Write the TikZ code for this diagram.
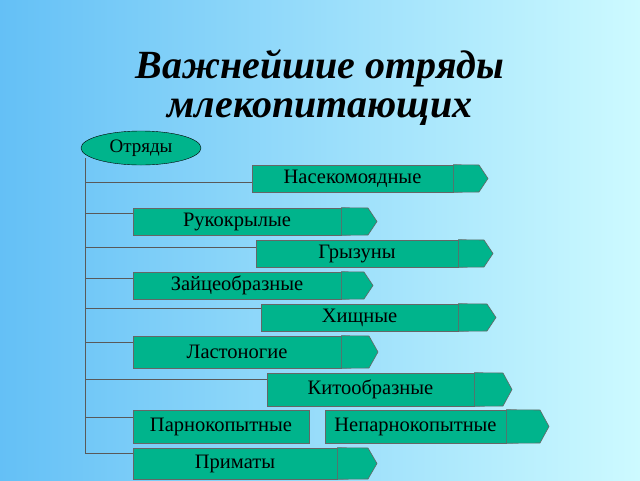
\documentclass[tikz,border=0pt]{standalone}
\usepackage{fontspec}
\setmainfont{Liberation Serif}
\usetikzlibrary{shapes.geometric}
\definecolor{boxg}{RGB}{0,180,140}
\definecolor{bgl}{RGB}{100,192,246}
\definecolor{bgr}{RGB}{205,250,255}
\newcommand\abox[7]{%
  \node[box, minimum width={(#3-#2)*1pt}, minimum height={(#6-#5)*1pt}] (#1) at ({(#2+#3)/2},{-(#5+#6)/2}) {#7};
  \coordinate (#1t) at (#4,{-(#5+#6)/2});
  \draw[boxline] (#1.north east) -- (#4-9,-#5) -- (#1t) -- (#4-9,-#6) -- (#1.south east) -- cycle;}
\begin{document}
\begin{tikzpicture}[x=1pt,y=1pt,
  box/.style={draw=black!60, fill=boxg, line width=0.6pt, inner sep=0pt, font=\fontsize{20.5}{20.5}\selectfont},
  boxline/.style={draw=black!60, fill=boxg, line width=0.6pt},
  conn/.style={draw=black!65, line width=0.6pt}]
\useasboundingbox (0,0) rectangle (640,-480);
\shade[left color=bgl, right color=bgr] (0,0) rectangle (640,-480);
\node[font=\fontsize{40}{39}\selectfont\bfseries\itshape, align=center] (title) at (320,-88) {Важнейшие отряды\\млекопитающих};
\node[draw=black, fill=boxg, ellipse, minimum width=120pt, minimum height=34pt, inner sep=0pt, font=\fontsize{19}{19}\selectfont] (otr) at (141,-148) {Отряды};
\abox{b1}{252}{453}{488}{165}{192}{Насекомоядные}
\abox{b2}{133}{341}{377}{208}{235}{Рукокрылые}
\abox{b3}{256}{458}{493}{240}{267}{Грызуны}
\abox{b4}{133}{341}{373}{272}{299}{Зайцеобразные}
\abox{b5}{261}{458}{496}{304}{331}{Хищные}
\abox{b6}{133}{341}{378}{336}{368}{Ластоногие}
\abox{b7}{267}{474}{512}{373}{406}{Китообразные}
\node[box, minimum width=176pt, minimum height=33pt] (b8) at (221,-426.5) {Парнокопытные};
\abox{b9}{325}{506}{549}{410}{443}{Непарнокопытные}
\abox{b10}{133}{337}{377}{448}{479}{Приматы}
\coordinate (vtop) at (85,-158);
\coordinate (vbot) at (85,-453);
\draw[conn] (vtop) -- (vbot);
\foreach \b/\yy in {b1/182,b2/213,b3/247,b4/278,b5/308,b6/342,b7/379,b8/417,b10/453}{
  \draw[conn] (85,-\yy) -- (\b.west |- 0,-\yy);
}
\end{tikzpicture}
\end{document}
